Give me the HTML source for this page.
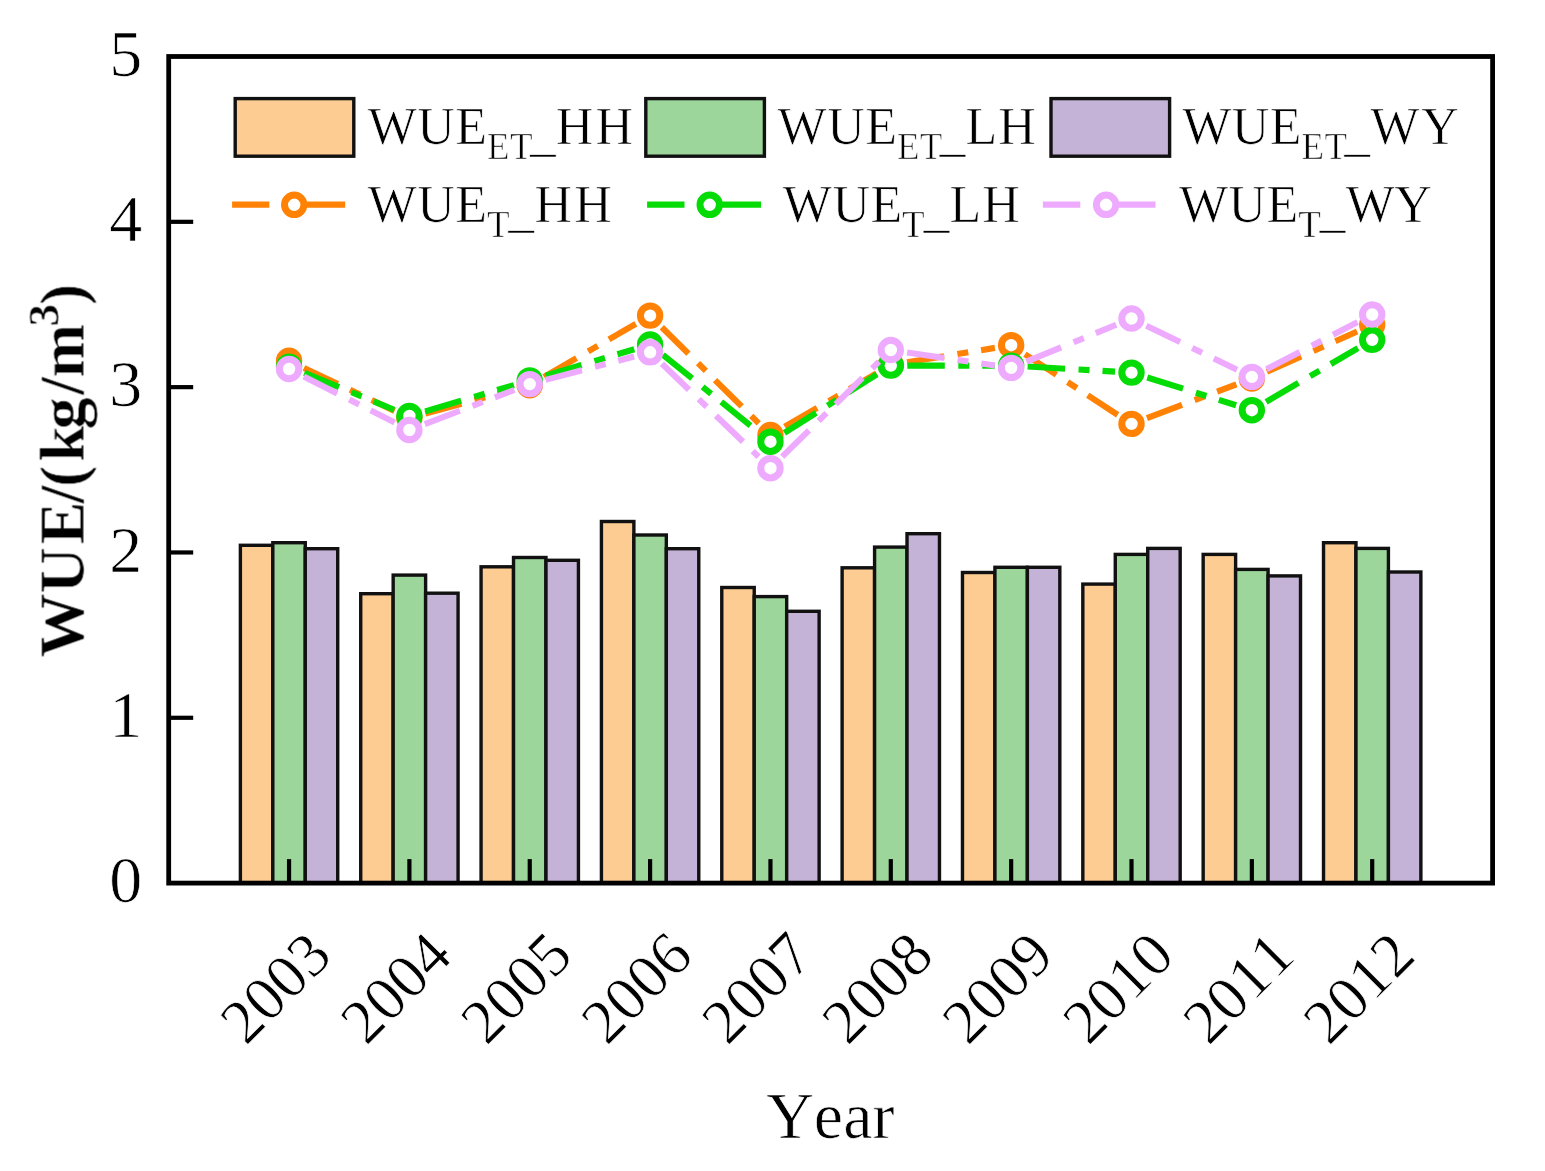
<!DOCTYPE html>
<html lang="en"><head><meta charset="utf-8"><title>WUE by Year</title>
<style>
html,body{margin:0;padding:0;background:#fff;}
body{width:1545px;height:1171px;overflow:hidden;}
svg{display:block;font-family:"Liberation Serif","DejaVu Serif",serif;font-kerning:none;}
text{fill:#000;font-kerning:none;stroke:#fff;stroke-width:0.7px;paint-order:fill stroke;}
.tk{font-size:66px;}
.lg{font-size:52px;letter-spacing:0.5px;}
.xt{font-size:62.5px;}
.sf{letter-spacing:2.2px;}
.sb{font-size:37px;letter-spacing:0.3px;}
.yl{font-size:64px;font-weight:bold;}
</style></head><body>
<svg width="1545" height="1171" viewBox="0 0 1545 1171">
<rect x="0" y="0" width="1545" height="1171" fill="#ffffff"/>
<defs><filter id="soft" x="0" y="0" width="1545" height="1171" filterUnits="userSpaceOnUse" color-interpolation-filters="sRGB"><feGaussianBlur stdDeviation="0.75"/></filter></defs>
<g id="chart" filter="url(#soft)">
<g stroke="#111" stroke-width="3.40" stroke-linejoin="miter">
<rect x="240.38" y="545.30" width="32.45" height="337.80" fill="#fdcc92"/>
<rect x="272.82" y="542.70" width="32.45" height="340.40" fill="#9dd69b"/>
<rect x="305.27" y="548.70" width="32.45" height="334.40" fill="#c5b3d7"/>
<rect x="360.72" y="593.70" width="32.45" height="289.40" fill="#fdcc92"/>
<rect x="393.17" y="575.10" width="32.45" height="308.00" fill="#9dd69b"/>
<rect x="425.62" y="593.20" width="32.45" height="289.90" fill="#c5b3d7"/>
<rect x="481.07" y="566.80" width="32.45" height="316.30" fill="#fdcc92"/>
<rect x="513.52" y="557.50" width="32.45" height="325.60" fill="#9dd69b"/>
<rect x="545.98" y="560.30" width="32.45" height="322.80" fill="#c5b3d7"/>
<rect x="601.42" y="521.50" width="32.45" height="361.60" fill="#fdcc92"/>
<rect x="633.88" y="535.00" width="32.45" height="348.10" fill="#9dd69b"/>
<rect x="666.32" y="548.70" width="32.45" height="334.40" fill="#c5b3d7"/>
<rect x="721.78" y="587.50" width="32.45" height="295.60" fill="#fdcc92"/>
<rect x="754.23" y="596.60" width="32.45" height="286.50" fill="#9dd69b"/>
<rect x="786.68" y="611.30" width="32.45" height="271.80" fill="#c5b3d7"/>
<rect x="842.12" y="567.80" width="32.45" height="315.30" fill="#fdcc92"/>
<rect x="874.58" y="547.10" width="32.45" height="336.00" fill="#9dd69b"/>
<rect x="907.02" y="533.70" width="32.45" height="349.40" fill="#c5b3d7"/>
<rect x="962.47" y="572.50" width="32.45" height="310.60" fill="#fdcc92"/>
<rect x="994.92" y="567.30" width="32.45" height="315.80" fill="#9dd69b"/>
<rect x="1027.38" y="567.30" width="32.45" height="315.80" fill="#c5b3d7"/>
<rect x="1082.83" y="584.10" width="32.45" height="299.00" fill="#fdcc92"/>
<rect x="1115.28" y="554.40" width="32.45" height="328.70" fill="#9dd69b"/>
<rect x="1147.73" y="548.40" width="32.45" height="334.70" fill="#c5b3d7"/>
<rect x="1203.17" y="554.40" width="32.45" height="328.70" fill="#fdcc92"/>
<rect x="1235.62" y="569.40" width="32.45" height="313.70" fill="#9dd69b"/>
<rect x="1268.08" y="575.90" width="32.45" height="307.20" fill="#c5b3d7"/>
<rect x="1323.52" y="542.70" width="32.45" height="340.40" fill="#fdcc92"/>
<rect x="1355.97" y="548.40" width="32.45" height="334.70" fill="#9dd69b"/>
<rect x="1388.42" y="572.00" width="32.45" height="311.10" fill="#c5b3d7"/>
</g>
<rect x="168.70" y="56.50" width="1323.90" height="826.60" fill="none" stroke="#000" stroke-width="4.80"/>
<g stroke="#000" stroke-width="4.2">
<line x1="168.70" y1="717.78" x2="193.20" y2="717.78"/>
<line x1="168.70" y1="552.46" x2="193.20" y2="552.46"/>
<line x1="168.70" y1="387.14" x2="193.20" y2="387.14"/>
<line x1="168.70" y1="221.82" x2="193.20" y2="221.82"/>
<line x1="289.05" y1="883.10" x2="289.05" y2="859.10"/>
<line x1="409.40" y1="883.10" x2="409.40" y2="859.10"/>
<line x1="529.75" y1="883.10" x2="529.75" y2="859.10"/>
<line x1="650.10" y1="883.10" x2="650.10" y2="859.10"/>
<line x1="770.45" y1="883.10" x2="770.45" y2="859.10"/>
<line x1="890.80" y1="883.10" x2="890.80" y2="859.10"/>
<line x1="1011.15" y1="883.10" x2="1011.15" y2="859.10"/>
<line x1="1131.50" y1="883.10" x2="1131.50" y2="859.10"/>
<line x1="1251.85" y1="883.10" x2="1251.85" y2="859.10"/>
<line x1="1372.20" y1="883.10" x2="1372.20" y2="859.10"/>
</g>
<g stroke="#ff8205" fill="none">
<g stroke-width="6.10" stroke-dasharray="37.5 13.5 11 13">
<line x1="303.95" y1="367.88" x2="394.50" y2="410.92"/>
<line x1="425.32" y1="413.66" x2="513.83" y2="389.54"/>
<line x1="544.03" y1="376.94" x2="635.82" y2="323.86"/>
<line x1="661.81" y1="327.22" x2="758.74" y2="423.38"/>
<line x1="784.71" y1="426.70" x2="876.54" y2="373.30"/>
<line x1="907.08" y1="362.32" x2="994.87" y2="347.88"/>
<line x1="1024.96" y1="354.23" x2="1117.69" y2="414.87"/>
<line x1="1146.94" y1="418.08" x2="1236.41" y2="384.32"/>
<line x1="1266.92" y1="371.78" x2="1357.13" y2="331.52"/>
</g>
<g stroke-width="7.00" fill="#fff">
<circle cx="289.05" cy="360.80" r="9.70"/>
<circle cx="409.40" cy="418.00" r="9.70"/>
<circle cx="529.75" cy="385.20" r="9.70"/>
<circle cx="650.10" cy="315.60" r="9.70"/>
<circle cx="770.45" cy="435.00" r="9.70"/>
<circle cx="890.80" cy="365.00" r="9.70"/>
<circle cx="1011.15" cy="345.20" r="9.70"/>
<circle cx="1131.50" cy="423.90" r="9.70"/>
<circle cx="1251.85" cy="378.50" r="9.70"/>
<circle cx="1372.20" cy="324.80" r="9.70"/>
</g></g>
<g stroke="#05dc05" fill="none">
<g stroke-width="6.10" stroke-dasharray="37.5 13.5 11 13">
<line x1="304.31" y1="372.87" x2="394.14" y2="409.73"/>
<line x1="425.22" y1="411.32" x2="513.93" y2="385.08"/>
<line x1="545.56" y1="375.68" x2="634.29" y2="349.22"/>
<line x1="662.94" y1="354.87" x2="757.61" y2="431.33"/>
<line x1="784.40" y1="432.88" x2="876.85" y2="374.42"/>
<line x1="907.30" y1="365.60" x2="994.65" y2="365.60"/>
<line x1="1027.62" y1="366.56" x2="1115.03" y2="371.64"/>
<line x1="1147.25" y1="377.52" x2="1236.10" y2="405.28"/>
<line x1="1266.09" y1="401.87" x2="1357.96" y2="348.13"/>
</g>
<g stroke-width="7.00" fill="#fff">
<circle cx="289.05" cy="366.60" r="9.70"/>
<circle cx="409.40" cy="416.00" r="9.70"/>
<circle cx="529.75" cy="380.40" r="9.70"/>
<circle cx="650.10" cy="344.50" r="9.70"/>
<circle cx="770.45" cy="441.70" r="9.70"/>
<circle cx="890.80" cy="365.60" r="9.70"/>
<circle cx="1011.15" cy="365.60" r="9.70"/>
<circle cx="1131.50" cy="372.60" r="9.70"/>
<circle cx="1251.85" cy="410.20" r="9.70"/>
<circle cx="1372.20" cy="339.80" r="9.70"/>
</g></g>
<g stroke="#eeaaff" fill="none">
<g stroke-width="6.10" stroke-dasharray="37.5 13.5 11 13">
<line x1="303.77" y1="376.46" x2="394.68" y2="422.54"/>
<line x1="424.82" y1="424.12" x2="514.33" y2="389.98"/>
<line x1="545.70" y1="379.88" x2="634.15" y2="356.52"/>
<line x1="661.98" y1="363.75" x2="758.57" y2="456.75"/>
<line x1="782.22" y1="456.64" x2="879.03" y2="361.56"/>
<line x1="907.12" y1="352.43" x2="994.83" y2="365.47"/>
<line x1="1026.41" y1="361.63" x2="1116.24" y2="324.77"/>
<line x1="1146.34" y1="325.70" x2="1237.01" y2="369.70"/>
<line x1="1266.50" y1="369.31" x2="1357.55" y2="322.09"/>
</g>
<g stroke-width="7.00" fill="#fff">
<circle cx="289.05" cy="369.00" r="9.70"/>
<circle cx="409.40" cy="430.00" r="9.70"/>
<circle cx="529.75" cy="384.10" r="9.70"/>
<circle cx="650.10" cy="352.30" r="9.70"/>
<circle cx="770.45" cy="468.20" r="9.70"/>
<circle cx="890.80" cy="350.00" r="9.70"/>
<circle cx="1011.15" cy="367.90" r="9.70"/>
<circle cx="1131.50" cy="318.50" r="9.70"/>
<circle cx="1251.85" cy="376.90" r="9.70"/>
<circle cx="1372.20" cy="314.50" r="9.70"/>
</g></g>
<rect x="235.2" y="98.6" width="118.6" height="57.6" fill="#fdcc92" stroke="#111" stroke-width="3.4"/>
<text class="lg" y="143.6"><tspan x="367.7">WUE</tspan><tspan class="sb" x="487.0" dy="15.2">ET</tspan><tspan x="529.7" dy="-8.9">_</tspan><tspan style="letter-spacing:2.2px" x="555.7" dy="-6.3">HH</tspan></text>
<rect x="645.8" y="98.6" width="118.6" height="57.6" fill="#9dd69b" stroke="#111" stroke-width="3.4"/>
<text class="lg" y="143.6"><tspan x="777.6">WUE</tspan><tspan class="sb" x="896.9" dy="15.2">ET</tspan><tspan x="939.6" dy="-8.9">_</tspan><tspan style="letter-spacing:1.0px" x="965.6" dy="-6.3">LH</tspan></text>
<rect x="1051.0" y="98.6" width="118.6" height="57.6" fill="#c5b3d7" stroke="#111" stroke-width="3.4"/>
<text class="lg" y="143.6"><tspan x="1182.2">WUE</tspan><tspan class="sb" x="1301.5" dy="15.2">ET</tspan><tspan x="1344.2" dy="-8.9">_</tspan><tspan style="letter-spacing:2.0px" x="1370.2" dy="-6.3">WY</tspan></text>
<g stroke="#ff8205" fill="none"><path d="M232.1 204.6H269.3M294.2 204.6H345.2" stroke-width="6.10"/><circle cx="294.2" cy="204.8" r="9.70" stroke-width="7.00" fill="#fff"/></g>
<text class="lg" y="221.6"><tspan x="367.7">WUE</tspan><tspan class="sb" x="487.0" dy="15.0">T</tspan><tspan x="508.3" dy="-10.5">_</tspan><tspan style="letter-spacing:2.2px" x="534.5" dy="-4.5">HH</tspan></text>
<g stroke="#05dc05" fill="none"><path d="M647.1 204.6H684.5M709.7 204.6H761.0" stroke-width="6.10"/><circle cx="709.7" cy="204.8" r="9.70" stroke-width="7.00" fill="#fff"/></g>
<text class="lg" y="221.6"><tspan x="782.8">WUE</tspan><tspan class="sb" x="902.1" dy="15.0">T</tspan><tspan x="923.4" dy="-10.5">_</tspan><tspan style="letter-spacing:1.0px" x="949.6" dy="-4.5">LH</tspan></text>
<g stroke="#eeaaff" fill="none"><path d="M1042.9 204.6H1080.3M1106.1 204.6H1155.5" stroke-width="6.10"/><circle cx="1106.1" cy="204.8" r="9.70" stroke-width="7.00" fill="#fff"/></g>
<text class="lg" y="221.6"><tspan x="1178.9">WUE</tspan><tspan class="sb" x="1298.2" dy="15.0">T</tspan><tspan x="1319.5" dy="-10.5">_</tspan><tspan style="letter-spacing:-0.4px" x="1345.7" dy="-4.5">WY</tspan></text>
<text class="tk" text-anchor="end" x="142.3" y="902.4">0</text>
<text class="tk" text-anchor="end" x="142.3" y="737.1">1</text>
<text class="tk" text-anchor="end" x="142.3" y="571.8">2</text>
<text class="tk" text-anchor="end" x="142.3" y="406.4">3</text>
<text class="tk" text-anchor="end" x="142.3" y="241.1">4</text>
<text class="tk" text-anchor="end" x="142.3" y="75.8">5</text>
<text class="xt" text-anchor="middle" transform="translate(275.4 987.6) rotate(-45)" x="0" y="20.8">2003</text>
<text class="xt" text-anchor="middle" transform="translate(395.8 987.6) rotate(-45)" x="0" y="20.8">2004</text>
<text class="xt" text-anchor="middle" transform="translate(516.1 987.6) rotate(-45)" x="0" y="20.8">2005</text>
<text class="xt" text-anchor="middle" transform="translate(636.5 987.6) rotate(-45)" x="0" y="20.8">2006</text>
<text class="xt" text-anchor="middle" transform="translate(756.9 987.6) rotate(-45)" x="0" y="20.8">2007</text>
<text class="xt" text-anchor="middle" transform="translate(877.2 987.6) rotate(-45)" x="0" y="20.8">2008</text>
<text class="xt" text-anchor="middle" transform="translate(997.5 987.6) rotate(-45)" x="0" y="20.8">2009</text>
<text class="xt" text-anchor="middle" transform="translate(1117.9 987.6) rotate(-45)" x="0" y="20.8">2010</text>
<text class="xt" text-anchor="middle" transform="translate(1238.2 987.6) rotate(-45)" x="0" y="20.8">2011</text>
<text class="xt" text-anchor="middle" transform="translate(1358.6 987.6) rotate(-45)" x="0" y="20.8">2012</text>
<text class="tk" text-anchor="middle" x="830.3" y="1137.8">Year</text>
<text class="yl" transform="translate(83.6 656.4) rotate(-90)" x="-0.9 63.0 111.9 153.1 169.4 194.7 226.9 261.5 278.9" y="0">WUE/(kg/m<tspan style="font-size:45px" x="330.0" dy="-25.5">3</tspan><tspan x="351.2" dy="25.5">)</tspan></text>
</g></svg></body></html>
